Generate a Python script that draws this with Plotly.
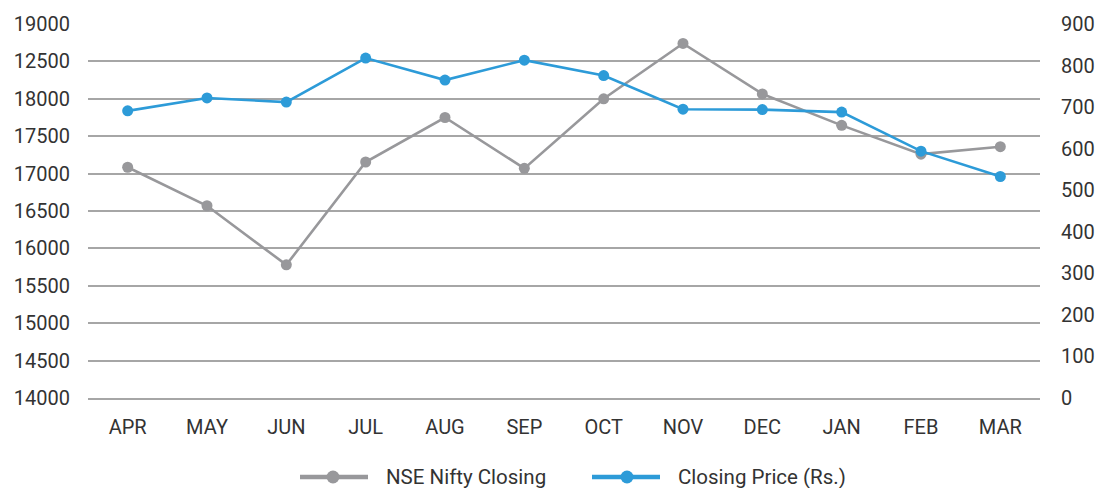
import plotly.graph_objects as go

# Monthly data, April to March
months = ["APR", "MAY", "JUN", "JUL", "AUG", "SEP", "OCT", "NOV", "DEC", "JAN", "FEB", "MAR"]
nifty_closing = [17085, 16570, 15780, 17155, 17750, 17070, 18000, 18740, 18065, 17645, 17260, 17360]
closing_price = [691, 722, 712, 818, 765, 813, 776, 695, 694, 688, 594, 533]

# Left axis ticks (labels as printed)
left_tickvals = [19000, 18500, 18000, 17500, 17000, 16500, 16000, 15500, 15000, 14500, 14000]
left_ticktext = ["19000", "12500", "18000", "17500", "17000", "16500", "16000", "15500", "15000", "14500", "14000"]
right_tickvals = [900, 800, 700, 600, 500, 400, 300, 200, 100, 0]

series_names = ["NSE Nifty Closing", "Closing Price (Rs.)"]

GRAY = "#98989b"
BLUE = "#2d9bd8"
GRID = "#a6a6a6"
FONT = "Roboto"
TEXT = "#333333"

W, H = 1106, 488
ML, MR, MT, MB = 88, 66, 24, 90
PW, PH = W - ML - MR, H - MT - MB


def px_x(px):
    return (px - ML) / PW


def px_y(py):
    return (H - MB - py) / PH


fig = go.Figure()
fig.add_trace(go.Scatter(
    x=months, y=nifty_closing, name=series_names[0],
    mode="lines+markers", line=dict(color=GRAY, width=2.6),
    marker=dict(color=GRAY, size=11), yaxis="y",
))
fig.add_trace(go.Scatter(
    x=months, y=closing_price, name=series_names[1],
    mode="lines+markers", line=dict(color=BLUE, width=2.6),
    marker=dict(color=BLUE, size=11), yaxis="y2",
))

# Legend below the plot: long line swatch with a dot, then the label
shapes, annotations = [], []
legend_y = px_y(477)
for name, color, x0, x1, xm, xt in [
    (series_names[0], GRAY, 300, 368, 333, 384),
    (series_names[1], BLUE, 592, 660, 627, 676),
]:
    shapes.append(dict(type="line", xref="paper", yref="paper",
                       x0=px_x(x0), x1=px_x(x1), y0=legend_y, y1=legend_y,
                       line=dict(color=color, width=4.5)))
    shapes.append(dict(type="circle", xref="paper", yref="paper",
                       xsizemode="pixel", ysizemode="pixel",
                       xanchor=px_x(xm), yanchor=legend_y,
                       x0=-6.5, x1=6.5, y0=-6.5, y1=6.5,
                       fillcolor=color, line=dict(width=0)))
    annotations.append(dict(text=name, xref="paper", yref="paper",
                            x=px_x(xt), y=legend_y, xanchor="left", yanchor="middle",
                            showarrow=False,
                            font=dict(family=FONT, size=20.5, color=TEXT)))

fig.update_layout(
    width=W, height=H,
    margin=dict(l=ML, r=MR, t=MT, b=MB),
    paper_bgcolor="white", plot_bgcolor="white",
    font=dict(family=FONT, size=20, color=TEXT),
    showlegend=False,
    shapes=shapes, annotations=annotations,
    xaxis=dict(
        type="category", range=[-0.5, 11.5], showgrid=False, zeroline=False,
        showline=True, linecolor=GRID, linewidth=1.5, ticks="",
        ticklabelstandoff=10,
        tickfont=dict(family=FONT, size=20, color=TEXT),
    ),
    yaxis=dict(
        range=[14000, 19000], tickvals=left_tickvals, ticktext=left_ticktext,
        showgrid=True, gridcolor=GRID, gridwidth=1.5, zeroline=False,
        showline=False, ticks="", ticklabelstandoff=17,
        tickfont=dict(family=FONT, size=20, color=TEXT),
    ),
    yaxis2=dict(
        range=[0, 900], tickvals=right_tickvals, overlaying="y", side="right",
        showgrid=False, zeroline=False, showline=False, ticks="",
        ticklabelstandoff=20,
        tickfont=dict(family=FONT, size=20, color=TEXT),
    ),
)

fig.write_html("out.html")
